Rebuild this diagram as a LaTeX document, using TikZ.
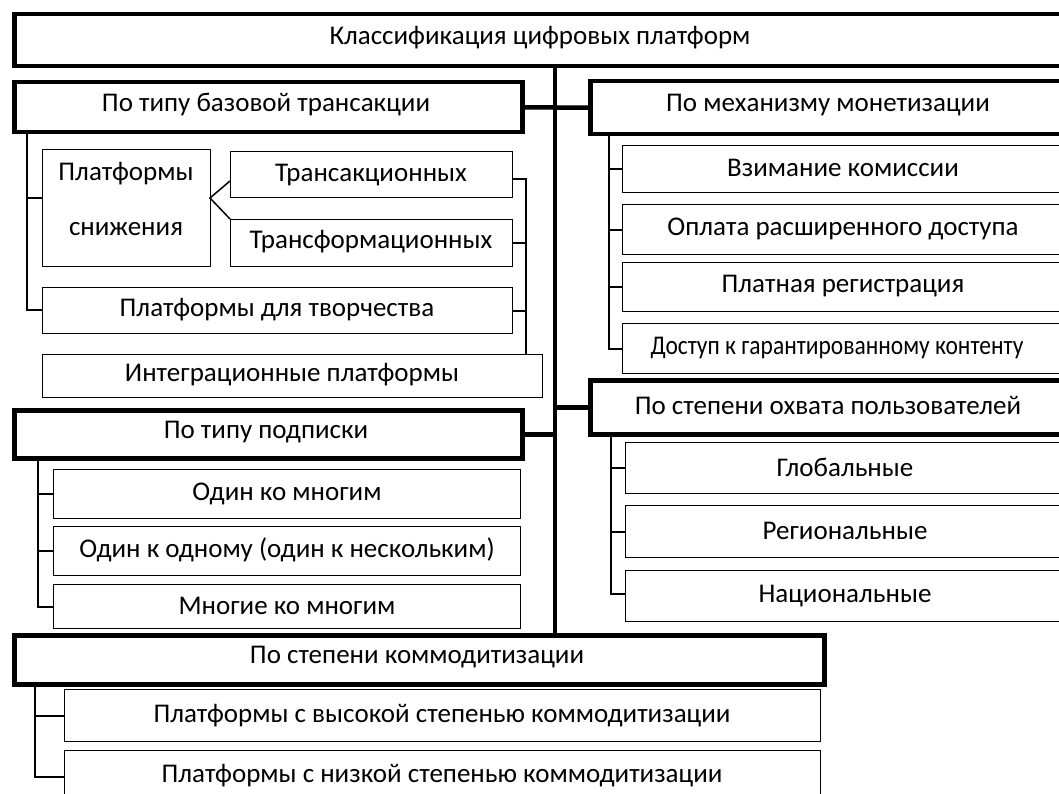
\documentclass[tikz,border=0pt]{standalone}
\usepackage{fontspec}
\setmainfont{Carlito}
\usetikzlibrary{calc}
\begin{document}
\begin{tikzpicture}[x=1pt,y=-1pt,
  thickbox/.style={draw=black,line width=4.5pt,fill=white,inner sep=0pt,anchor=north west},
  thinbox/.style={draw=black,line width=1.2pt,fill=white,inner sep=0pt,anchor=north west},
  lbl/.style={inner sep=0pt,font=\fontsize{27}{32}\selectfont},
  spine/.style={line width=4.5pt},
  brk/.style={line width=2pt},
  thinline/.style={line width=1.5pt}]
\useasboundingbox (0,0) rectangle (1059,794);
\clip (0,0) rectangle (1059,794);
% boxes
\newcommand{\bx}[6]{\node[#1,minimum width=#4-#2,minimum height=#5-#3] (#6) at (#2,#3) {};}
\bx{thickbox}{12}{12}{1068}{64}{top}
\bx{thickbox}{12}{80}{520}{130}{b1}
\bx{thickbox}{588}{79}{1068}{132}{mech}
\bx{thinbox}{622}{145}{1064}{192}{m1}
\bx{thinbox}{622}{204}{1064}{254}{m2}
\bx{thinbox}{622}{262}{1064}{311}{m3}
\bx{thinbox}{622}{323}{1064}{373}{m4}
\bx{thickbox}{588}{378}{1068}{432}{cov}
\bx{thinbox}{625}{442}{1064}{493}{c1}
\bx{thinbox}{625}{505}{1064}{557}{c2}
\bx{thinbox}{625}{570}{1064}{621}{c3}
\bx{thinbox}{42}{149}{210}{266}{s}
\bx{thinbox}{230}{151}{512}{197}{t1}
\bx{thinbox}{230}{219}{512}{266}{t2}
\bx{thinbox}{42}{287}{512}{333}{cr}
\bx{thinbox}{42}{354}{542}{397}{int}
\bx{thickbox}{12}{408}{520}{456}{sub}
\bx{thinbox}{53}{469}{520}{518}{p1}
\bx{thinbox}{53}{526}{520}{575}{p2}
\bx{thinbox}{53}{584}{520}{628}{p3}
\bx{thickbox}{12}{633}{822}{682}{com}
\bx{thinbox}{64}{689}{820}{741}{h1}
\bx{thinbox}{64}{750}{820}{812}{h2}
% texts
\node[lbl] (ttop) at (540,38) {Классификация цифровых платформ};
\node[lbl] (tb1) at (266,105) {По типу базовой трансакции};
\node[lbl] (tmech) at (828,105) {По механизму монетизации};
\node[lbl] (tm1) at (843,168) {Взимание комиссии};
\node[lbl] (tm2) at (843,229) {Оплата расширенного доступа};
\node[lbl] (tm3) at (843,286) {Платная регистрация};
\node[lbl] (tm4) at (837,348) {\scalebox{0.87}[1]{Доступ к гарантированному контенту}};
\node[lbl] (tcov) at (828,405) {По степени охвата пользователей};
\node[lbl] (tc1) at (845,467) {Глобальные};
\node[lbl] (tc2) at (845,531) {Региональные};
\node[lbl] (tc3) at (845,596) {Национальные};
\node[lbl] (ts1) at (126,174) {Платформы};
\node[lbl] (ts2) at (126,229) {снижения};
\node[lbl] (tt1) at (371,175) {Трансакционных};
\node[lbl] (tt2) at (371,242) {Трансформационных};
\node[lbl] (tcr) at (277,310) {Платформы для творчества};
\node[lbl] (tint) at (292,375) {Интеграционные платформы};
\node[lbl] (tsub) at (266,432) {По типу подписки};
\node[lbl] (tp1) at (287,494) {Один ко многим};
\node[lbl] (tp2) at (287,550) {Один к одному (один к нескольким)};
\node[lbl] (tp3) at (287,606) {Многие ко многим};
\node[lbl] (tcom) at (417,657) {По степени коммодитизации};
\node[lbl] (th1) at (442,716) {Платформы с высокой степенью коммодитизации};
\node[lbl] (th2) at (442,776) {Платформы с низкой степенью коммодитизации};
% spine
\coordinate (sp1) at (555,64);
\coordinate (sp2) at (555,633);
\draw[spine] (sp1) -- (sp2);
\draw[spine] (b1.east) -- (mech.west);
\draw[spine] (sub.east) -- (sub.east -| sp1);
\draw[spine] (cov.west) -- (cov.west -| sp1);
% bracket type of transaction
\coordinate (k1) at (27,198);
\coordinate (k2) at (27,310);
\draw[brk] (b1.south -| k1) -- (k2) -- (k2 -| cr.west);
\draw[brk] (k1) -- (k1 -| s.west);
% rhombus connectors
\coordinate (apex) at (210,198);
\coordinate (ta) at (230,181);
\coordinate (tb) at (230,219);
\draw[thinline] (ta) -- (apex) -- (tb);
% right bracket
\coordinate (r1) at (526,179);
\draw[brk] (r1 -| t1.east) -- (r1) -- (r1 |- int.north);
\draw[brk] (t2.east) -- (t2.east -| r1);
\draw[brk] (cr.east) -- (cr.east -| r1);
% mechanism bracket
\coordinate (mx) at (609,132);
\draw[brk] (mx) -- (mx |- m4.west) -- (m4.west);
\draw[brk] (m1.west) -- (m1.west -| mx);
\draw[brk] (m2.west) -- (m2.west -| mx);
\draw[brk] (m3.west) -- (m3.west -| mx);
% coverage bracket
\coordinate (cx) at (611,432);
\coordinate (cend) at (611,594);
\draw[brk] (cx) -- (cend) -- (cend -| c3.west);
\draw[brk] (c1.west) -- (c1.west -| cx);
\draw[brk] (c2.west) -- (c2.west -| cx);
% subscription bracket
\coordinate (sx) at (38,456);
\draw[brk] (sx) -- (sx |- p3.west) -- (p3.west);
\draw[brk] (p1.west) -- (p1.west -| sx);
\draw[brk] (p2.west) -- (p2.west -| sx);
% commoditization bracket
\coordinate (hx) at (35,682);
\coordinate (hend) at (35,777);
\draw[brk] (hx) -- (hend) -- (hend -| h2.west);
\draw[brk] (h1.west) -- (h1.west -| hx);
\end{tikzpicture}
\end{document}
